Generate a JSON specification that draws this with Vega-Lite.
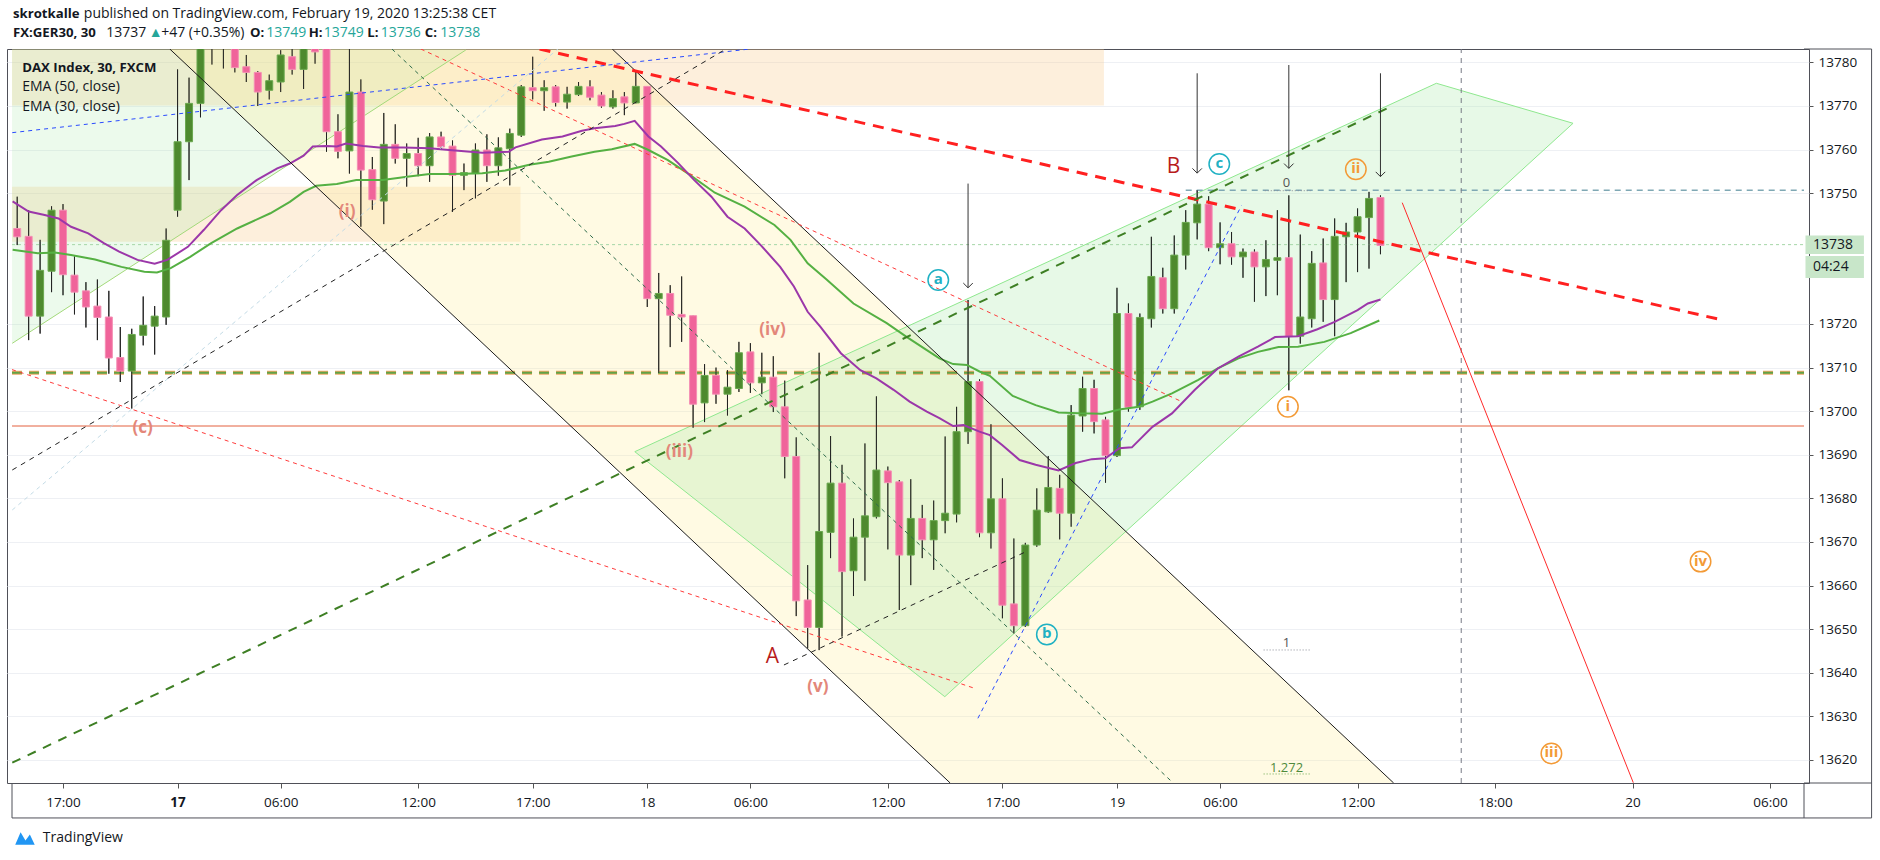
{
"$schema": "https://vega.github.io/schema/vega-lite/v6.json",
"width": 1802, "height": 734,
"autosize": {"type": "none"},
"padding": {"left": 7, "top": 49, "right": 71, "bottom": 77},
"background": "white",
"config": {"view": {"stroke": "#4f5058", "strokeWidth": 1}, "font": "Open Sans"},
"datasets": {
"candles": [
{"i":-4,"o":13741.9,"h":13749.2,"l":13738.1,"c":13740.0},
{"i":-3,"o":13740.1,"h":13746.1,"l":13716.3,"c":13721.8},
{"i":-2,"o":13721.8,"h":13739.3,"l":13717.8,"c":13732.3},
{"i":-1,"o":13732.1,"h":13747.0,"l":13727.3,"c":13746.1},
{"i":0,"o":13746.1,"h":13747.5,"l":13726.6,"c":13731.3},
{"i":1,"o":13731.2,"h":13735.5,"l":13722.2,"c":13727.3},
{"i":2,"o":13727.6,"h":13729.6,"l":13719.2,"c":13723.9},
{"i":3,"o":13724.1,"h":13730.2,"l":13716.3,"c":13721.5},
{"i":4,"o":13721.6,"h":13727.6,"l":13708.6,"c":13712.2},
{"i":5,"o":13712.3,"h":13719.3,"l":13706.7,"c":13709.2},
{"i":6,"o":13709.2,"h":13718.9,"l":13700.6,"c":13717.6},
{"i":7,"o":13717.4,"h":13726.3,"l":13715.1,"c":13719.7},
{"i":8,"o":13719.5,"h":13724.1,"l":13713.0,"c":13721.8},
{"i":9,"o":13721.6,"h":13741.9,"l":13719.8,"c":13739.2},
{"i":10,"o":13746.1,"h":13778.4,"l":13744.6,"c":13761.8},
{"i":11,"o":13761.8,"h":13776.5,"l":13753.0,"c":13770.6},
{"i":12,"o":13770.6,"h":13795,"l":13767.4,"c":13790},
{"i":13,"o":13790,"h":13798,"l":13779.5,"c":13793},
{"i":14,"o":13793,"h":13797,"l":13778.6,"c":13789},
{"i":15,"o":13788,"h":13792,"l":13777.7,"c":13778.8},
{"i":16,"o":13779.0,"h":13781.7,"l":13775.5,"c":13777.7},
{"i":17,"o":13777.7,"h":13778.0,"l":13770.0,"c":13773.2},
{"i":18,"o":13773.6,"h":13777.2,"l":13771.5,"c":13775.8},
{"i":19,"o":13775.5,"h":13782.8,"l":13773.2,"c":13781.7},
{"i":20,"o":13781.3,"h":13783.5,"l":13777.2,"c":13778.4},
{"i":21,"o":13778.4,"h":13790,"l":13773.9,"c":13786},
{"i":22,"o":13784,"h":13788,"l":13779.7,"c":13782.4},
{"i":23,"o":13786,"h":13790,"l":13759.5,"c":13764.1},
{"i":24,"o":13764.1,"h":13768.1,"l":13758.0,"c":13759.6},
{"i":25,"o":13759.7,"h":13790,"l":13754.5,"c":13773.2},
{"i":26,"o":13773.2,"h":13776.1,"l":13742.3,"c":13755.3},
{"i":27,"o":13755.4,"h":13758.3,"l":13746.2,"c":13748.5},
{"i":28,"o":13748.2,"h":13768.4,"l":13742.9,"c":13761.2},
{"i":29,"o":13761.2,"h":13765.8,"l":13756.8,"c":13758.0},
{"i":30,"o":13758.0,"h":13761.4,"l":13751.5,"c":13759.1},
{"i":31,"o":13759.1,"h":13762.7,"l":13753.9,"c":13756.3},
{"i":32,"o":13756.3,"h":13763.8,"l":13752.6,"c":13762.9},
{"i":33,"o":13762.9,"h":13764.1,"l":13759.9,"c":13760.6},
{"i":34,"o":13760.8,"h":13762.1,"l":13745.7,"c":13754.1},
{"i":35,"o":13754.1,"h":13756.8,"l":13750.7,"c":13754.7},
{"i":36,"o":13754.5,"h":13761.4,"l":13748.8,"c":13759.9},
{"i":37,"o":13759.9,"h":13763.5,"l":13752.6,"c":13756.3},
{"i":38,"o":13756.3,"h":13762.8,"l":13754.0,"c":13760.4},
{"i":39,"o":13760.2,"h":13764.8,"l":13751.8,"c":13763.7},
{"i":40,"o":13763.3,"h":13774.8,"l":13762.9,"c":13774.4},
{"i":41,"o":13774.2,"h":13781.3,"l":13771.5,"c":13773.5},
{"i":42,"o":13773.5,"h":13775.9,"l":13768.9,"c":13774.2},
{"i":43,"o":13774.4,"h":13774.8,"l":13769.9,"c":13770.8},
{"i":44,"o":13770.9,"h":13774.4,"l":13769.4,"c":13772.7},
{"i":45,"o":13772.6,"h":13775.5,"l":13772.3,"c":13774.5},
{"i":46,"o":13774.4,"h":13775.9,"l":13771.3,"c":13772.0},
{"i":47,"o":13772.5,"h":13773.2,"l":13769.6,"c":13770.0},
{"i":48,"o":13769.8,"h":13773.6,"l":13769.4,"c":13771.7},
{"i":49,"o":13772.1,"h":13773.2,"l":13767.9,"c":13770.7},
{"i":50,"o":13770.7,"h":13778.2,"l":13770.6,"c":13774.5},
{"i":51,"o":13774.5,"h":13774.5,"l":13723.9,"c":13725.8},
{"i":52,"o":13725.8,"h":13731.7,"l":13708.8,"c":13727.0},
{"i":53,"o":13727.0,"h":13728.9,"l":13714.7,"c":13722.0},
{"i":54,"o":13722.2,"h":13730.9,"l":13715.9,"c":13721.6},
{"i":55,"o":13721.9,"h":13721.9,"l":13696.2,"c":13701.6},
{"i":56,"o":13701.9,"h":13710.8,"l":13697.5,"c":13708.2},
{"i":57,"o":13708.2,"h":13710.0,"l":13701.7,"c":13703.9},
{"i":58,"o":13703.9,"h":13709.4,"l":13699.0,"c":13705.5},
{"i":59,"o":13705.2,"h":13715.9,"l":13704.4,"c":13713.4},
{"i":60,"o":13713.6,"h":13715.6,"l":13704.2,"c":13706.5},
{"i":61,"o":13706.5,"h":13713.4,"l":13703.9,"c":13707.8},
{"i":62,"o":13707.8,"h":13712.6,"l":13699.8,"c":13701.0},
{"i":63,"o":13701.0,"h":13707.0,"l":13684.6,"c":13689.6},
{"i":64,"o":13689.6,"h":13694.0,"l":13653.0,"c":13656.5},
{"i":65,"o":13656.7,"h":13664.7,"l":13645.6,"c":13650.4},
{"i":66,"o":13650.4,"h":13713.4,"l":13645.2,"c":13672.4},
{"i":67,"o":13672.2,"h":13694.3,"l":13666.3,"c":13683.5},
{"i":68,"o":13683.5,"h":13687.7,"l":13648.3,"c":13663.2},
{"i":69,"o":13663.4,"h":13675.4,"l":13657.6,"c":13671.1},
{"i":70,"o":13671.1,"h":13692.6,"l":13661.1,"c":13676.0},
{"i":71,"o":13675.8,"h":13703.4,"l":13675.4,"c":13686.5},
{"i":72,"o":13686.3,"h":13687.3,"l":13668.3,"c":13683.6},
{"i":73,"o":13683.8,"h":13684.2,"l":13654.4,"c":13667.0},
{"i":74,"o":13667.0,"h":13684.4,"l":13660.1,"c":13675.4},
{"i":75,"o":13675.4,"h":13678.5,"l":13666.3,"c":13670.5},
{"i":76,"o":13670.5,"h":13679.5,"l":13663.6,"c":13674.9},
{"i":77,"o":13674.9,"h":13694.2,"l":13672.0,"c":13676.6},
{"i":78,"o":13676.4,"h":13701.0,"l":13674.5,"c":13695.3},
{"i":79,"o":13695.3,"h":13725.5,"l":13692.5,"c":13706.8},
{"i":80,"o":13706.8,"h":13707.3,"l":13671.1,"c":13672.1},
{"i":81,"o":13672.1,"h":13697.0,"l":13668.5,"c":13679.9},
{"i":82,"o":13679.9,"h":13684.6,"l":13652.5,"c":13655.5},
{"i":83,"o":13655.8,"h":13670.8,"l":13649.0,"c":13650.8},
{"i":84,"o":13650.8,"h":13669.8,"l":13650.5,"c":13669.3},
{"i":85,"o":13669.3,"h":13682.3,"l":13668.9,"c":13677.3},
{"i":86,"o":13676.9,"h":13689.7,"l":13676.7,"c":13682.5},
{"i":87,"o":13682.3,"h":13685.4,"l":13670.6,"c":13676.6},
{"i":88,"o":13676.6,"h":13701.4,"l":13673.5,"c":13699.1},
{"i":89,"o":13698.9,"h":13707.9,"l":13695.3,"c":13705.2},
{"i":90,"o":13705.2,"h":13707.2,"l":13694.9,"c":13697.6},
{"i":91,"o":13698.0,"h":13698.7,"l":13683.6,"c":13689.8},
{"i":92,"o":13689.8,"h":13728.3,"l":13689.5,"c":13722.4},
{"i":93,"o":13722.4,"h":13724.7,"l":13699.9,"c":13700.9},
{"i":94,"o":13701.0,"h":13722.4,"l":13700.3,"c":13721.5},
{"i":95,"o":13721.2,"h":13740.0,"l":13719.2,"c":13730.9},
{"i":96,"o":13730.6,"h":13732.9,"l":13722.4,"c":13723.5},
{"i":97,"o":13723.5,"h":13740.3,"l":13722.4,"c":13735.8},
{"i":98,"o":13735.8,"h":13746.1,"l":13732.5,"c":13743.3},
{"i":99,"o":13743.2,"h":13750.7,"l":13739.4,"c":13747.5},
{"i":100,"o":13747.5,"h":13749.3,"l":13736.7,"c":13737.5},
{"i":101,"o":13737.5,"h":13743.3,"l":13733.7,"c":13738.4},
{"i":102,"o":13738.4,"h":13741.1,"l":13733.6,"c":13735.4},
{"i":103,"o":13735.4,"h":13737.3,"l":13730.6,"c":13736.5},
{"i":104,"o":13736.5,"h":13737.1,"l":13725.1,"c":13733.1},
{"i":105,"o":13733.1,"h":13739.2,"l":13726.4,"c":13734.8},
{"i":106,"o":13734.6,"h":13746.1,"l":13726.6,"c":13735.2},
{"i":107,"o":13735.2,"h":13749.5,"l":13704.8,"c":13717.2},
{"i":108,"o":13717.2,"h":13740.5,"l":13715.5,"c":13721.6},
{"i":109,"o":13721.2,"h":13736.7,"l":13719.2,"c":13733.9},
{"i":110,"o":13734.0,"h":13739.6,"l":13720.5,"c":13725.6},
{"i":111,"o":13725.6,"h":13744.2,"l":13717.2,"c":13740.1},
{"i":112,"o":13740.0,"h":13743.2,"l":13729.6,"c":13741.1},
{"i":113,"o":13741.1,"h":13746.5,"l":13731.9,"c":13744.6},
{"i":114,"o":13744.4,"h":13750.3,"l":13732.7,"c":13748.8},
{"i":115,"o":13749,"h":13749.5,"l":13736,"c":13738}
],
"ema30": [
{"i":-4.4,"v":13748.1},{"i":-3.0,"v":13745.8},{"i":-1.6,"v":13745.0},{"i":-0.4,"v":13744.2},{"i":0.7,"v":13742.3},{"i":2.2,"v":13740.8},{"i":3.6,"v":13738.5},{"i":4.9,"v":13736.6},{"i":6.5,"v":13734.7},{"i":8.0,"v":13733.8},{"i":9.1,"v":13734.7},{"i":10.9,"v":13737.7},{"i":12.3,"v":13741.6},{"i":13.8,"v":13746.1},{"i":15.2,"v":13749.6},{"i":16.9,"v":13753.0},{"i":18.7,"v":13755.7},{"i":19.8,"v":13756.8},{"i":21.0,"v":13758.6},{"i":21.8,"v":13760.7},{"i":23.0,"v":13760.8},{"i":23.9,"v":13760.7},{"i":24.7,"v":13761.4},{"i":26.2,"v":13760.8},{"i":27.6,"v":13760.5},{"i":29.7,"v":13760.5},{"i":32.0,"v":13760.3},{"i":33.7,"v":13759.9},{"i":36.6,"v":13759.3},{"i":38.9,"v":13759.5},{"i":39.5,"v":13760.5},{"i":41.8,"v":13762.3},{"i":43.6,"v":13763.0},{"i":45.3,"v":13764.3},{"i":46.4,"v":13764.9},{"i":48.2,"v":13765.4},{"i":49.0,"v":13765.9},{"i":49.9,"v":13766.6},{"i":51.1,"v":13763.0},{"i":52.2,"v":13760.7},{"i":53.7,"v":13756.9},{"i":55.1,"v":13753.0},{"i":56.6,"v":13749.2},{"i":58.0,"v":13744.6},{"i":59.5,"v":13741.9},{"i":60.9,"v":13738.1},{"i":62.6,"v":13733.1},{"i":63.8,"v":13728.6},{"i":65.0,"v":13722.8},{"i":66.1,"v":13719.4},{"i":67.9,"v":13713.3},{"i":69.6,"v":13709.4},{"i":71.0,"v":13707.5},{"i":72.5,"v":13704.9},{"i":73.9,"v":13702.2},{"i":75.4,"v":13699.9},{"i":76.5,"v":13698.4},{"i":77.7,"v":13696.6},{"i":78.6,"v":13696.8},{"i":80.0,"v":13695.3},{"i":80.9,"v":13694.5},{"i":82.0,"v":13692.2},{"i":83.5,"v":13688.8},{"i":84.9,"v":13687.7},{"i":86.9,"v":13686.4},{"i":88.4,"v":13688.1},{"i":89.8,"v":13689.0},{"i":91.0,"v":13689.2},{"i":92.2,"v":13691.5},{"i":93.3,"v":13691.7},{"i":95.1,"v":13696.4},{"i":96.8,"v":13699.5},{"i":98.8,"v":13704.9},{"i":100.8,"v":13709.8},{"i":102.6,"v":13712.5},{"i":104.3,"v":13714.8},{"i":105.8,"v":13717.0},{"i":107.8,"v":13717.2},{"i":109.5,"v":13718.8},{"i":111.0,"v":13720.5},{"i":113.0,"v":13723.2},{"i":113.9,"v":13724.7},{"i":115.0,"v":13725.6}
],
"ema50": [
{"i":-4.4,"v":13737.0},{"i":-2.2,"v":13736.2},{"i":-0.7,"v":13736.4},{"i":0.7,"v":13735.8},{"i":2.8,"v":13734.8},{"i":5.1,"v":13733.1},{"i":7.1,"v":13732.0},{"i":8.2,"v":13731.8},{"i":9.4,"v":13732.8},{"i":11.1,"v":13735.4},{"i":12.9,"v":13738.5},{"i":15.2,"v":13741.9},{"i":18.1,"v":13745.4},{"i":19.8,"v":13748.0},{"i":21.0,"v":13750.3},{"i":22.1,"v":13751.7},{"i":23.9,"v":13752.1},{"i":25.6,"v":13753.0},{"i":27.9,"v":13753.0},{"i":30.2,"v":13753.8},{"i":32.0,"v":13754.4},{"i":34.0,"v":13754.4},{"i":36.6,"v":13754.6},{"i":38.6,"v":13755.2},{"i":40.7,"v":13756.5},{"i":42.4,"v":13757.2},{"i":44.4,"v":13758.4},{"i":46.4,"v":13759.5},{"i":47.9,"v":13760.1},{"i":49.9,"v":13761.3},{"i":51.1,"v":13759.9},{"i":52.8,"v":13757.6},{"i":54.5,"v":13754.6},{"i":56.9,"v":13750.1},{"i":59.5,"v":13746.9},{"i":62.1,"v":13742.7},{"i":63.5,"v":13739.3},{"i":65.0,"v":13733.9},{"i":66.7,"v":13730.1},{"i":69.0,"v":13724.7},{"i":71.9,"v":13720.2},{"i":73.6,"v":13717.1},{"i":75.4,"v":13714.0},{"i":76.5,"v":13712.1},{"i":77.7,"v":13710.8},{"i":78.9,"v":13710.6},{"i":80.0,"v":13709.1},{"i":80.9,"v":13708.1},{"i":82.9,"v":13703.5},{"i":84.9,"v":13701.4},{"i":86.9,"v":13699.7},{"i":88.7,"v":13699.5},{"i":90.7,"v":13699.4},{"i":92.2,"v":13700.4},{"i":93.9,"v":13701.0},{"i":95.1,"v":13702.2},{"i":96.8,"v":13704.1},{"i":99.1,"v":13707.2},{"i":100.8,"v":13709.8},{"i":102.6,"v":13712.1},{"i":104.3,"v":13713.6},{"i":106.1,"v":13714.7},{"i":107.8,"v":13714.8},{"i":110.1,"v":13715.9},{"i":112.4,"v":13717.9},{"i":114.9,"v":13720.8}
],
"rects": [{"i1":-4.45,"i2":90.86,"p1":13770.11,"p2":13790},{"i1":-4.45,"i2":39.93,"p1":13738.88,"p2":13751.49}],
"mint": [{"i":-4.45,"lo":13715.55,"hi":13790},{"i":35.16,"lo":13782.84,"hi":13790}],
"chan": [{"i":9.32,"lo":13783.07,"hi":13878.5},{"i":116.15,"lo":13519.13,"hi":13614.72}],
"poly": [{"i":49.91,"lo":13690.71,"hi":13690.71},{"i":76.97,"lo":13634.52,"hi":13723.39},{"i":119.88,"lo":13737.43,"hi":13775.21},{"i":131.81,"lo":13766.03,"hi":13766.03}],
"polyEdge": [{"k":1,"i":49.91,"p":13690.71},{"k":2,"i":119.88,"p":13775.21},{"k":3,"i":131.81,"p":13766.03},{"k":4,"i":76.97,"p":13634.52},{"k":5,"i":49.91,"p":13690.71}],
"lines": [
{"n":"blk","i1":9.32,"p1":13783.07,"i2":77.44,"p2":13614.72},
{"n":"blk","i1":47.94,"p1":13783.07,"i2":116.15,"p2":13614.72},
{"n":"redThick","i1":41.6,"p1":13783.07,"i2":144.82,"p2":13720.92},
{"n":"red","i1":31.23,"p1":13783.07,"i2":97.66,"p2":13702.18},
{"n":"red","i1":-4.45,"p1":13709.54,"i2":79.57,"p2":13636.44},
{"n":"blue","i1":-4.43,"p1":13763.88,"i2":59.95,"p2":13783.07},
{"n":"blue","i1":79.86,"p1":13629.56,"i2":102.86,"p2":13747.13},
{"n":"blkD","i1":-4.43,"p1":13686.51,"i2":57.73,"p2":13782.84},
{"n":"blkD","i1":62.93,"p1":13641.79,"i2":84.06,"p2":13667.78},
{"n":"ltblue","i1":-4.43,"p1":13677.34,"i2":43.2,"p2":13783.07},
{"n":"dgThin","i1":28.71,"p1":13783.07,"i2":96.91,"p2":13614.72},
{"n":"dgThick","i1":-4.43,"p1":13619.38,"i2":115.6,"p2":13769.47},
{"n":"mintEdge","i1":-4.43,"p1":13715.57,"i2":35.16,"p2":13782.84},
{"n":"redFc","i1":116.9,"p1":13747.82,"i2":137.07,"p2":13614.79},
{"n":"hBrown","i1":-4.45,"p1":13696.6,"i2":151.97,"p2":13696.6},
{"n":"hOlive","i1":-4.45,"p1":13708.8,"i2":151.97,"p2":13708.8},
{"n":"hPrice","i1":-4.45,"p1":13738.2,"i2":151.97,"p2":13738.2},
{"n":"hTeal","i1":98,"p1":13750.7,"i2":151.97,"p2":13750.7},
{"n":"vDash","i1":122.05,"p1":13614.72,"i2":122.05,"p2":13783.07},
{"n":"fib","i1":104.9,"p1":13750.57,"i2":108.9,"p2":13750.57},
{"n":"fib","i1":104.8,"p1":13645.23,"i2":108.9,"p2":13645.23},
{"n":"fibG","i1":104.8,"p1":13616.79,"i2":108.9,"p2":13616.79}
],
"arrows": [{"i":79,"top":13752.2,"tip":13728.3},{"i":99,"top":13777.5,"tip":13754.6},{"i":107,"top":13779.4,"tip":13755.7},{"i":115,"top":13777.5,"tip":13753.8}],
"labels": [
{"t":"(i)","i":24.8,"p":13745.7,"k":"w"},
{"t":"(c)","i":6.94,"p":13696.1,"k":"w"},
{"t":"(iii)","i":53.8,"p":13690.7,"k":"w"},
{"t":"(iv)","i":61.93,"p":13718.6,"k":"w"},
{"t":"(v)","i":65.89,"p":13636.8,"k":"w"},
{"t":"A","i":61.93,"p":13643.7,"k":"L"},
{"t":"B","i":96.94,"p":13756.1,"k":"L"},
{"t":"a","i":76.4,"p":13730.1,"k":"c"},
{"t":"b","i":85.88,"p":13648.8,"k":"c"},
{"t":"c","i":100.93,"p":13756.7,"k":"c"},
{"t":"i","i":106.92,"p":13701.0,"k":"o"},
{"t":"ii","i":112.85,"p":13755.5,"k":"o"},
{"t":"iii","i":129.92,"p":13621.5,"k":"o"},
{"t":"iv","i":142.94,"p":13665.5,"k":"o"},
{"t":"0","i":106.8,"p":13752.3,"k":"g"},
{"t":"1","i":106.8,"p":13646.8,"k":"g"},
{"t":"1.272","i":106.8,"p":13618.1,"k":"gr"}
],
"texts": [
{"t":"skrotkalle","i":-4.37,"p":13791.1,"k":"b"},
{"t":"published on TradingView.com, February 19, 2020 13:25:38 CET","i":1.82,"p":13791.1,"k":"n"},
{"t":"FX:GER30, 30","i":-4.37,"p":13786.67,"k":"b"},
{"t":"13737","i":3.78,"p":13786.67,"k":"n"},
{"t":"▲","i":7.49,"p":13786.67,"k":"v"},
{"t":"+47 (+0.35%)","i":8.57,"p":13786.67,"k":"n"},
{"t":"O:","i":16.33,"p":13786.67,"k":"b"},
{"t":"13749","i":17.73,"p":13786.67,"k":"v"},
{"t":"H:","i":21.45,"p":13786.67,"k":"b"},
{"t":"13749","i":22.75,"p":13786.67,"k":"v"},
{"t":"L:","i":26.56,"p":13786.67,"k":"b"},
{"t":"13736","i":27.74,"p":13786.67,"k":"v"},
{"t":"C:","i":31.58,"p":13786.67,"k":"b"},
{"t":"13738","i":32.92,"p":13786.67,"k":"v"},
{"t":"DAX Index, 30, FXCM","i":-3.56,"p":13778.65,"k":"b"},
{"t":"EMA (50, close)","i":-3.56,"p":13774.3,"k":"n"},
{"t":"EMA (30, close)","i":-3.56,"p":13769.8,"k":"n"},
{"t":"TradingView","i":-1.76,"p":13602.1,"k":"n"},
{"t":"13738","i":152.75,"p":13738.2,"k":"n"},
{"t":"04:24","i":152.75,"p":13733.1,"k":"n"}
],
"pbox": [{"i1":152.1,"i2":157.2,"p1":13740.3,"p2":13736.06},{"i1":152.1,"i2":157.2,"p1":13735.6,"p2":13730.55}],
"frame": [
{"i1":151.97,"p1":13783.07,"i2":157.87,"p2":13783.07},
{"i1":157.87,"p1":13783.07,"i2":157.87,"p2":13606.7},
{"i1":-4.453,"p1":13606.7,"i2":157.87,"p2":13606.7},
{"i1":-4.453,"p1":13614.72,"i2":-4.453,"p2":13606.7},
{"i1":151.97,"p1":13614.72,"i2":151.97,"p2":13606.7},
{"i1":151.97,"p1":13614.72,"i2":157.87,"p2":13614.72}
],
"logo": [{"i":-3.32,"p":13602.1}]
},
"layer": [
{"data":{"name":"candles"},"mark":{"type":"rule","color":"#222222","strokeWidth":1,"clip":true},
 "encoding":{
  "x":{"field":"i","type":"quantitative","scale":{"domain":[-4.453,151.97],"nice":false,"zero":false},
   "axis":{"values":[0,10,19,31,41,51,60,72,82,92,101,113,125,137,149],
    "labelExpr":"datum.value==0?'17:00':datum.value==10?'17':datum.value==19?'06:00':datum.value==31?'12:00':datum.value==41?'17:00':datum.value==51?'18':datum.value==60?'06:00':datum.value==72?'12:00':datum.value==82?'17:00':datum.value==92?'19':datum.value==101?'06:00':datum.value==113?'12:00':datum.value==125?'18:00':datum.value==137?'20':datum.value==149?'06:00':''",
    "title":null,"grid":false,"domain":false,"ticks":true,"tickSize":5,"tickColor":"#555555","labelFont":"Open Sans","labelFontSize":13.5,"labelColor":"#131722","labelPadding":7,"labelFlush":false,"labelOverlap":false,"labels":true,"orient":"bottom",
    "labelFontWeight":{"condition":{"test":"datum.value == 10","value":"bold"},"value":"normal"}}},
  "y":{"field":"l","type":"quantitative","scale":{"domain":[13614.72,13783.07],"nice":false,"zero":false},
   "axis":{"orient":"right","values":[13620,13630,13640,13650,13660,13670,13680,13690,13700,13710,13720,13750,13760,13770,13780],"format":"d","title":null,"grid":true,"gridColor":"#eef0f4","domain":false,"ticks":true,"tickSize":4,"tickColor":"#555555","labelFont":"Open Sans","labelFontSize":13.5,"labelColor":"#131722","labelPadding":5,"labelAlign":"left","labelBaseline":"middle","labelFlush":false,"labelOverlap":false,"labels":true}},
  "y2":{"field":"h"}}},
{"data":{"name":"rects"},"mark":{"type":"rect","fill":"#f9c98a","fillOpacity":0.3,"clip":true},
 "encoding":{
  "x":{"field":"i1","type":"quantitative","scale":{"domain":[-4.453,151.97],"nice":false,"zero":false}},
  "x2":{"field":"i2"},
  "y":{"field":"p1","type":"quantitative","scale":{"domain":[13614.72,13783.07],"nice":false,"zero":false}},
  "y2":{"field":"p2"}}},
{"data":{"name":"mint"},"mark":{"type":"area","fill":"#9fe89f","fillOpacity":0.2,"clip":true},
 "encoding":{"x":{"field":"i","type":"quantitative","scale":{"domain":[-4.453,151.97],"nice":false,"zero":false}},
  "y":{"field":"lo","type":"quantitative","stack":null,"scale":{"domain":[13614.72,13783.07],"nice":false,"zero":false}},"y2":{"field":"hi"}}},
{"data":{"name":"chan"},"mark":{"type":"area","fill":"#ffec9c","fillOpacity":0.28,"clip":true},
 "encoding":{"x":{"field":"i","type":"quantitative","scale":{"domain":[-4.453,151.97],"nice":false,"zero":false}},
  "y":{"field":"lo","type":"quantitative","stack":null,"scale":{"domain":[13614.72,13783.07],"nice":false,"zero":false}},"y2":{"field":"hi"}}},
{"data":{"name":"poly"},"mark":{"type":"area","fill":"#9fe89f","fillOpacity":0.25,"clip":true},
 "encoding":{"x":{"field":"i","type":"quantitative","scale":{"domain":[-4.453,151.97],"nice":false,"zero":false}},
  "y":{"field":"lo","type":"quantitative","stack":null,"scale":{"domain":[13614.72,13783.07],"nice":false,"zero":false}},"y2":{"field":"hi"}}},
{"data":{"name":"polyEdge"},"mark":{"type":"line","color":"#8fe88f","strokeWidth":1,"clip":true},
 "encoding":{"x":{"field":"i","type":"quantitative","scale":{"domain":[-4.453,151.97],"nice":false,"zero":false}},
  "y":{"field":"p","type":"quantitative","scale":{"domain":[13614.72,13783.07],"nice":false,"zero":false}},"order":{"field":"k","type":"quantitative"}}},
{"data":{"name":"lines"},"transform":[{"filter":"datum.n=='mintEdge'"}],"mark":{"type":"rule","color":"#a3d97a","strokeWidth":1,"clip":true},
 "encoding":{"x":{"field":"i1","type":"quantitative","scale":{"domain":[-4.453,151.97],"nice":false,"zero":false}},"x2":{"field":"i2"},
  "y":{"field":"p1","type":"quantitative","scale":{"domain":[13614.72,13783.07],"nice":false,"zero":false}},"y2":{"field":"p2"}}},
{"data":{"name":"lines"},"transform":[{"filter":"datum.n=='hBrown'"}],"mark":{"type":"rule","color":"#e3603f","strokeWidth":1,"clip":true},
 "encoding":{"x":{"field":"i1","type":"quantitative","scale":{"domain":[-4.453,151.97],"nice":false,"zero":false}},"x2":{"field":"i2"},
  "y":{"field":"p1","type":"quantitative","scale":{"domain":[13614.72,13783.07],"nice":false,"zero":false}},"y2":{"field":"p2"}}},
{"data":{"name":"lines"},"transform":[{"filter":"datum.n=='hOlive'"}],"mark":{"type":"rule","color":"#eda868","strokeWidth":4,"strokeDash":[10,7],"clip":true},
 "encoding":{"x":{"field":"i1","type":"quantitative","scale":{"domain":[-4.453,151.97],"nice":false,"zero":false}},"x2":{"field":"i2"},
  "y":{"field":"p1","type":"quantitative","scale":{"domain":[13614.72,13783.07],"nice":false,"zero":false}},"y2":{"field":"p2"}}},
{"data":{"name":"lines"},"transform":[{"filter":"datum.n=='hOlive'"}],"mark":{"type":"rule","color":"#62a346","strokeWidth":2,"strokeDash":[10,7],"clip":true},
 "encoding":{"x":{"field":"i1","type":"quantitative","scale":{"domain":[-4.453,151.97],"nice":false,"zero":false}},"x2":{"field":"i2"},
  "y":{"field":"p1","type":"quantitative","scale":{"domain":[13614.72,13783.07],"nice":false,"zero":false}},"y2":{"field":"p2"}}},
{"data":{"name":"lines"},"transform":[{"filter":"datum.n=='hPrice'"}],"mark":{"type":"rule","color":"#a5d6a7","strokeWidth":1,"strokeDash":[3,3],"clip":true},
 "encoding":{"x":{"field":"i1","type":"quantitative","scale":{"domain":[-4.453,151.97],"nice":false,"zero":false}},"x2":{"field":"i2"},
  "y":{"field":"p1","type":"quantitative","scale":{"domain":[13614.72,13783.07],"nice":false,"zero":false}},"y2":{"field":"p2"}}},
{"data":{"name":"lines"},"transform":[{"filter":"datum.n=='hTeal'"}],"mark":{"type":"rule","color":"#7fa8b4","strokeWidth":1.5,"strokeDash":[6,5],"clip":true},
 "encoding":{"x":{"field":"i1","type":"quantitative","scale":{"domain":[-4.453,151.97],"nice":false,"zero":false}},"x2":{"field":"i2"},
  "y":{"field":"p1","type":"quantitative","scale":{"domain":[13614.72,13783.07],"nice":false,"zero":false}},"y2":{"field":"p2"}}},
{"data":{"name":"lines"},"transform":[{"filter":"datum.n=='vDash'"}],"mark":{"type":"rule","color":"#787b86","strokeWidth":1,"strokeDash":[5,5],"clip":true},
 "encoding":{"x":{"field":"i1","type":"quantitative","scale":{"domain":[-4.453,151.97],"nice":false,"zero":false}},"x2":{"field":"i2"},
  "y":{"field":"p1","type":"quantitative","scale":{"domain":[13614.72,13783.07],"nice":false,"zero":false}},"y2":{"field":"p2"}}},
{"data":{"name":"candles"},"mark":{"type":"rule","color":"#222222","strokeWidth":1,"clip":true},
 "encoding":{"x":{"field":"i","type":"quantitative","scale":{"domain":[-4.453,151.97],"nice":false,"zero":false}},
  "y":{"field":"l","type":"quantitative","scale":{"domain":[13614.72,13783.07],"nice":false,"zero":false}},"y2":{"field":"h"}}},
{"data":{"name":"candles"},"mark":{"type":"bar","size":7,"strokeWidth":1,"clip":true},
 "encoding":{"x":{"field":"i","type":"quantitative","scale":{"domain":[-4.453,151.97],"nice":false,"zero":false}},
  "y":{"field":"o","type":"quantitative","stack":null,"scale":{"domain":[13614.72,13783.07],"nice":false,"zero":false}},"y2":{"field":"c"},
  "fill":{"condition":{"test":"datum.c >= datum.o","value":"#4e8a2e"},"value":"#f0649a"},
  "stroke":{"condition":{"test":"datum.c >= datum.o","value":"#6aa84f"},"value":"#f48fb4"}}},
{"data":{"name":"ema50"},"mark":{"type":"line","color":"#55b043","strokeWidth":2,"clip":true},
 "encoding":{"x":{"field":"i","type":"quantitative","scale":{"domain":[-4.453,151.97],"nice":false,"zero":false}},
  "y":{"field":"v","type":"quantitative","scale":{"domain":[13614.72,13783.07],"nice":false,"zero":false}}}},
{"data":{"name":"ema30"},"mark":{"type":"line","color":"#9b37a9","strokeWidth":2,"clip":true},
 "encoding":{"x":{"field":"i","type":"quantitative","scale":{"domain":[-4.453,151.97],"nice":false,"zero":false}},
  "y":{"field":"v","type":"quantitative","scale":{"domain":[13614.72,13783.07],"nice":false,"zero":false}}}},
{"data":{"name":"lines"},"transform":[{"filter":"datum.n=='blk'"}],"mark":{"type":"rule","color":"#1a1a1a","strokeWidth":1,"clip":true},
 "encoding":{"x":{"field":"i1","type":"quantitative","scale":{"domain":[-4.453,151.97],"nice":false,"zero":false}},"x2":{"field":"i2"},
  "y":{"field":"p1","type":"quantitative","scale":{"domain":[13614.72,13783.07],"nice":false,"zero":false}},"y2":{"field":"p2"}}},
{"data":{"name":"lines"},"transform":[{"filter":"datum.n=='redThick'"}],"mark":{"type":"rule","color":"#ff2020","strokeWidth":3,"strokeDash":[11,8],"clip":true},
 "encoding":{"x":{"field":"i1","type":"quantitative","scale":{"domain":[-4.453,151.97],"nice":false,"zero":false}},"x2":{"field":"i2"},
  "y":{"field":"p1","type":"quantitative","scale":{"domain":[13614.72,13783.07],"nice":false,"zero":false}},"y2":{"field":"p2"}}},
{"data":{"name":"lines"},"transform":[{"filter":"datum.n=='red'"}],"mark":{"type":"rule","color":"#ff3b3b","strokeWidth":1,"strokeDash":[4,4],"clip":true},
 "encoding":{"x":{"field":"i1","type":"quantitative","scale":{"domain":[-4.453,151.97],"nice":false,"zero":false}},"x2":{"field":"i2"},
  "y":{"field":"p1","type":"quantitative","scale":{"domain":[13614.72,13783.07],"nice":false,"zero":false}},"y2":{"field":"p2"}}},
{"data":{"name":"lines"},"transform":[{"filter":"datum.n=='blue'"}],"mark":{"type":"rule","color":"#2a4bff","strokeWidth":1,"strokeDash":[4,4],"clip":true},
 "encoding":{"x":{"field":"i1","type":"quantitative","scale":{"domain":[-4.453,151.97],"nice":false,"zero":false}},"x2":{"field":"i2"},
  "y":{"field":"p1","type":"quantitative","scale":{"domain":[13614.72,13783.07],"nice":false,"zero":false}},"y2":{"field":"p2"}}},
{"data":{"name":"lines"},"transform":[{"filter":"datum.n=='blkD'"}],"mark":{"type":"rule","color":"#222222","strokeWidth":1,"strokeDash":[5,5],"clip":true},
 "encoding":{"x":{"field":"i1","type":"quantitative","scale":{"domain":[-4.453,151.97],"nice":false,"zero":false}},"x2":{"field":"i2"},
  "y":{"field":"p1","type":"quantitative","scale":{"domain":[13614.72,13783.07],"nice":false,"zero":false}},"y2":{"field":"p2"}}},
{"data":{"name":"lines"},"transform":[{"filter":"datum.n=='ltblue'"}],"mark":{"type":"rule","color":"#c3dbe6","strokeWidth":1,"strokeDash":[4,4],"clip":true},
 "encoding":{"x":{"field":"i1","type":"quantitative","scale":{"domain":[-4.453,151.97],"nice":false,"zero":false}},"x2":{"field":"i2"},
  "y":{"field":"p1","type":"quantitative","scale":{"domain":[13614.72,13783.07],"nice":false,"zero":false}},"y2":{"field":"p2"}}},
{"data":{"name":"lines"},"transform":[{"filter":"datum.n=='dgThin'"}],"mark":{"type":"rule","color":"#2e6b4a","strokeWidth":1,"strokeDash":[4,4],"clip":true},
 "encoding":{"x":{"field":"i1","type":"quantitative","scale":{"domain":[-4.453,151.97],"nice":false,"zero":false}},"x2":{"field":"i2"},
  "y":{"field":"p1","type":"quantitative","scale":{"domain":[13614.72,13783.07],"nice":false,"zero":false}},"y2":{"field":"p2"}}},
{"data":{"name":"lines"},"transform":[{"filter":"datum.n=='dgThick'"}],"mark":{"type":"rule","color":"#3e7f24","strokeWidth":2,"strokeDash":[9,8],"clip":true},
 "encoding":{"x":{"field":"i1","type":"quantitative","scale":{"domain":[-4.453,151.97],"nice":false,"zero":false}},"x2":{"field":"i2"},
  "y":{"field":"p1","type":"quantitative","scale":{"domain":[13614.72,13783.07],"nice":false,"zero":false}},"y2":{"field":"p2"}}},
{"data":{"name":"lines"},"transform":[{"filter":"datum.n=='redFc'"}],"mark":{"type":"rule","color":"#ff2a2a","strokeWidth":1,"clip":true},
 "encoding":{"x":{"field":"i1","type":"quantitative","scale":{"domain":[-4.453,151.97],"nice":false,"zero":false}},"x2":{"field":"i2"},
  "y":{"field":"p1","type":"quantitative","scale":{"domain":[13614.72,13783.07],"nice":false,"zero":false}},"y2":{"field":"p2"}}},
{"data":{"name":"lines"},"transform":[{"filter":"datum.n=='fib'"}],"mark":{"type":"rule","color":"#8a8d96","strokeWidth":1,"strokeDash":[1,2],"clip":true},
 "encoding":{"x":{"field":"i1","type":"quantitative","scale":{"domain":[-4.453,151.97],"nice":false,"zero":false}},"x2":{"field":"i2"},
  "y":{"field":"p1","type":"quantitative","scale":{"domain":[13614.72,13783.07],"nice":false,"zero":false}},"y2":{"field":"p2"}}},
{"data":{"name":"lines"},"transform":[{"filter":"datum.n=='fibG'"}],"mark":{"type":"rule","color":"#6aa84f","strokeWidth":1,"strokeDash":[1,2],"clip":true},
 "encoding":{"x":{"field":"i1","type":"quantitative","scale":{"domain":[-4.453,151.97],"nice":false,"zero":false}},"x2":{"field":"i2"},
  "y":{"field":"p1","type":"quantitative","scale":{"domain":[13614.72,13783.07],"nice":false,"zero":false}},"y2":{"field":"p2"}}},
{"data":{"name":"arrows"},"mark":{"type":"rule","color":"#333333","strokeWidth":1,"clip":true},
 "encoding":{"x":{"field":"i","type":"quantitative","scale":{"domain":[-4.453,151.97],"nice":false,"zero":false}},
  "y":{"field":"top","type":"quantitative","scale":{"domain":[13614.72,13783.07],"nice":false,"zero":false}},"y2":{"field":"tip"}}},
{"data":{"name":"arrows"},"mark":{"type":"point","shape":"M-1,-1L0,0L1,-1","filled":false,"stroke":"#333333","strokeWidth":1,"size":90,"opacity":1},
 "encoding":{"x":{"field":"i","type":"quantitative","scale":{"domain":[-4.453,151.97],"nice":false,"zero":false}},
  "y":{"field":"tip","type":"quantitative","scale":{"domain":[13614.72,13783.07],"nice":false,"zero":false}}}},
{"data":{"name":"labels"},"transform":[{"filter":"datum.k=='w'"}],"mark":{"type":"text","font":"Open Sans","fontSize":17,"fontWeight":"bold","color":"#e3877a","align":"center","baseline":"middle"},
 "encoding":{"x":{"field":"i","type":"quantitative","scale":{"domain":[-4.453,151.97],"nice":false,"zero":false}},
  "y":{"field":"p","type":"quantitative","scale":{"domain":[13614.72,13783.07],"nice":false,"zero":false}},"text":{"field":"t"}}},
{"data":{"name":"labels"},"transform":[{"filter":"datum.k=='L'"}],"mark":{"type":"text","font":"Open Sans","fontSize":21,"color":"#b81c1c","align":"center","baseline":"middle"},
 "encoding":{"x":{"field":"i","type":"quantitative","scale":{"domain":[-4.453,151.97],"nice":false,"zero":false}},
  "y":{"field":"p","type":"quantitative","scale":{"domain":[13614.72,13783.07],"nice":false,"zero":false}},"text":{"field":"t"}}},
{"data":{"name":"labels"},"transform":[{"filter":"datum.k=='c' || datum.k=='o'"}],"mark":{"type":"point","shape":"circle","filled":false,"strokeWidth":1.5,"size":420,"opacity":1},
 "encoding":{"x":{"field":"i","type":"quantitative","scale":{"domain":[-4.453,151.97],"nice":false,"zero":false}},
  "y":{"field":"p","type":"quantitative","scale":{"domain":[13614.72,13783.07],"nice":false,"zero":false}},
  "stroke":{"condition":{"test":"datum.k=='c'","value":"#1fb1c3"},"value":"#f39a36"}}},
{"data":{"name":"labels"},"transform":[{"filter":"datum.k=='c' || datum.k=='o'"}],"mark":{"type":"text","font":"Open Sans","fontSize":15,"fontWeight":"bold","align":"center","baseline":"middle","dy":-1},
 "encoding":{"x":{"field":"i","type":"quantitative","scale":{"domain":[-4.453,151.97],"nice":false,"zero":false}},
  "y":{"field":"p","type":"quantitative","scale":{"domain":[13614.72,13783.07],"nice":false,"zero":false}},"text":{"field":"t"},
  "color":{"condition":{"test":"datum.k=='c'","value":"#1fb1c3"},"value":"#f39a36"}}},
{"data":{"name":"labels"},"transform":[{"filter":"datum.k=='g' || datum.k=='gr'"}],"mark":{"type":"text","font":"Open Sans","fontSize":13,"align":"center","baseline":"middle"},
 "encoding":{"x":{"field":"i","type":"quantitative","scale":{"domain":[-4.453,151.97],"nice":false,"zero":false}},
  "y":{"field":"p","type":"quantitative","scale":{"domain":[13614.72,13783.07],"nice":false,"zero":false}},"text":{"field":"t"},
  "color":{"condition":{"test":"datum.k=='gr'","value":"#4f8a3c"},"value":"#555555"}}},
{"data":{"name":"pbox"},"mark":{"type":"rect","fill":"#c8e6c9"},
 "encoding":{"x":{"field":"i1","type":"quantitative","scale":{"domain":[-4.453,151.97],"nice":false,"zero":false}},"x2":{"field":"i2"},
  "y":{"field":"p1","type":"quantitative","scale":{"domain":[13614.72,13783.07],"nice":false,"zero":false}},"y2":{"field":"p2"}}},
{"data":{"name":"frame"},"mark":{"type":"rule","color":"#4f5058","strokeWidth":1},
 "encoding":{"x":{"field":"i1","type":"quantitative","scale":{"domain":[-4.453,151.97],"nice":false,"zero":false}},"x2":{"field":"i2"},
  "y":{"field":"p1","type":"quantitative","scale":{"domain":[13614.72,13783.07],"nice":false,"zero":false}},"y2":{"field":"p2"}}},
{"data":{"name":"texts"},"transform":[{"filter":"datum.k=='b'"}],"mark":{"type":"text","font":"Open Sans","fontSize":13.2,"fontWeight":"bold","color":"#131722","align":"left","baseline":"middle"},
 "encoding":{"x":{"field":"i","type":"quantitative","scale":{"domain":[-4.453,151.97],"nice":false,"zero":false}},
  "y":{"field":"p","type":"quantitative","scale":{"domain":[13614.72,13783.07],"nice":false,"zero":false}},"text":{"field":"t"}}},
{"data":{"name":"texts"},"transform":[{"filter":"datum.k!='b'"}],"mark":{"type":"text","font":"Open Sans","fontSize":14,"align":"left","baseline":"middle"},
 "encoding":{"x":{"field":"i","type":"quantitative","scale":{"domain":[-4.453,151.97],"nice":false,"zero":false}},
  "y":{"field":"p","type":"quantitative","scale":{"domain":[13614.72,13783.07],"nice":false,"zero":false}},"text":{"field":"t"},
  "color":{"condition":{"test":"datum.k=='v'","value":"#26a69a"},"value":"#131722"}}},
{"data":{"name":"logo"},"mark":{"type":"point","shape":"M-1,0.7L-0.45,-0.6L0.05,0.25L0.5,-0.35L1,0.7Z","filled":true,"color":"#2196f3","size":380,"opacity":1},
 "encoding":{"x":{"field":"i","type":"quantitative","scale":{"domain":[-4.453,151.97],"nice":false,"zero":false}},
  "y":{"field":"p","type":"quantitative","scale":{"domain":[13614.72,13783.07],"nice":false,"zero":false}}}}
]
}
